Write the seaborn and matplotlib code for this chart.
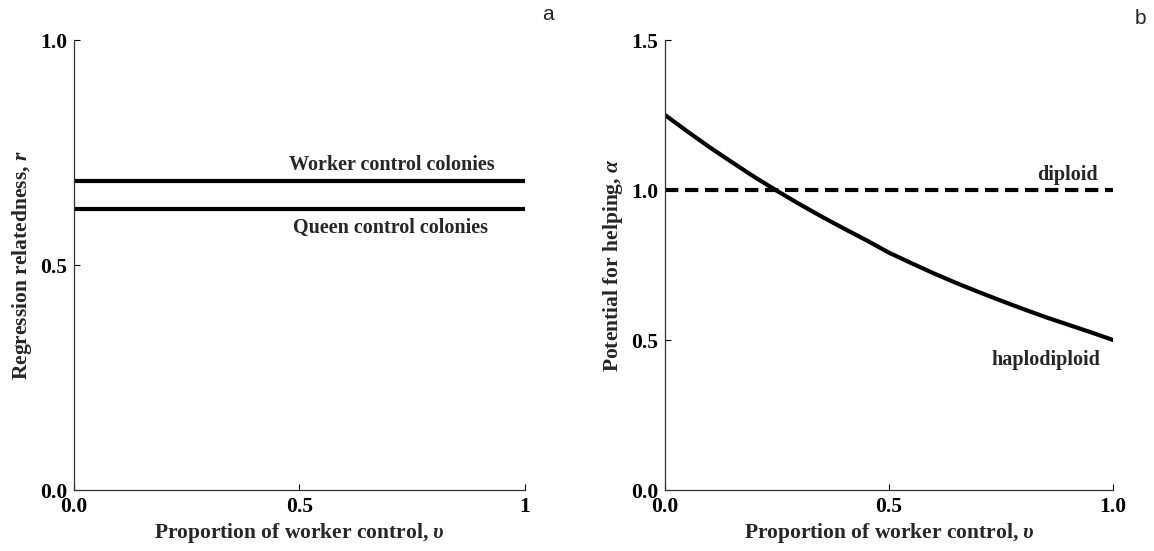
import numpy as np
import pandas as pd
import matplotlib
matplotlib.use("Agg")
import matplotlib.pyplot as plt
import seaborn as sns

# ---- data -------------------------------------------------------------
# panel a: regression relatedness vs proportion of worker control
v_rel = [0.0, 1.0]
r_worker = [0.6875, 0.6875]
r_queen = [0.625, 0.625]

# panel b: potential for helping vs proportion of worker control
v_help = [0.0, 0.05, 0.1, 0.15, 0.2, 0.25, 0.3, 0.35, 0.4, 0.45, 0.5,
          0.55, 0.6, 0.65, 0.7, 0.75, 0.8, 0.85, 0.9, 0.95, 1.0]
alpha_haplo = [1.25, 1.195, 1.142, 1.092, 1.043, 0.997, 0.953, 0.911, 0.871,
               0.832, 0.791, 0.756, 0.722, 0.690, 0.660, 0.631, 0.603, 0.576,
               0.551, 0.526, 0.5]
v_dip = [0.0, 1.0]
alpha_dip = [1.0, 1.0]

xticks_a = [0.0, 0.5, 1.0]
xticklabels_a = ["0.0", "0.5", "1"]
yticks_a = [0.0, 0.5, 1.0]
yticklabels_a = ["0.0", "0.5", "1.0"]
xticks_b = [0.0, 0.5, 1.0]
xticklabels_b = ["0.0", "0.5", "1.0"]
yticks_b = [0.0, 0.5, 1.0, 1.5]
yticklabels_b = ["0.0", "0.5", "1.0", "1.5"]

# ---- style ------------------------------------------------------------
sns.set_style("ticks")
plt.rcParams["font.family"] = ["Liberation Serif", "DejaVu Serif"]
plt.rcParams["font.weight"] = "bold"
plt.rcParams["mathtext.fontset"] = "custom"
plt.rcParams["mathtext.rm"] = "Liberation Serif:bold"
plt.rcParams["mathtext.it"] = "Liberation Serif:italic:bold"
plt.rcParams["mathtext.bf"] = "Liberation Serif:bold"

FS = 14.5
FS_TICK = 15.5
FS_LABEL = 15.5
LW = 3.0

fig = plt.figure(figsize=(11.54, 5.51), dpi=100)
ax_a = fig.add_axes([0.0641, 0.1107, 0.3908, 0.8167])
ax_b = fig.add_axes([0.5763, 0.1107, 0.3882, 0.8167])

df_w = pd.DataFrame({"v": v_rel, "r": r_worker})
df_q = pd.DataFrame({"v": v_rel, "r": r_queen})
sns.lineplot(data=df_w, x="v", y="r", ax=ax_a, color="black", lw=LW)
sns.lineplot(data=df_q, x="v", y="r", ax=ax_a, color="black", lw=LW)

df_h = pd.DataFrame({"v": v_help, "a": alpha_haplo})
df_d = pd.DataFrame({"v": v_dip, "a": alpha_dip})
sns.lineplot(data=df_h, x="v", y="a", ax=ax_b, color="black", lw=LW)
sns.lineplot(data=df_d, x="v", y="a", ax=ax_b, color="black", lw=LW,
             dashes=False, linestyle=(0, (3.2, 1.6)))

ax_a.set_xlim(0, 1)
ax_a.set_ylim(0, 1)
ax_b.set_xlim(0, 1)
ax_b.set_ylim(0, 1.5)

for ax, xt, xl, yt, yl in [(ax_a, xticks_a, xticklabels_a, yticks_a, yticklabels_a),
                           (ax_b, xticks_b, xticklabels_b, yticks_b, yticklabels_b)]:
    ax.set_xticks(xt)
    ax.set_xticklabels(xl, fontsize=FS_TICK, fontweight="bold")
    ax.set_yticks(yt)
    ax.set_yticklabels(yl, fontsize=FS_TICK, fontweight="bold")
    ax.tick_params(direction="in", length=4, width=0.8, pad=5, colors="black")
    for s in ["top", "right"]:
        ax.spines[s].set_visible(False)
    for s in ["left", "bottom"]:
        ax.spines[s].set_linewidth(0.9)
        ax.spines[s].set_color("#333333")

ax_a.set_xlabel(r"Proportion of worker control, $\upsilon$", fontsize=FS_LABEL,
                fontweight="bold", labelpad=3)
ax_a.set_ylabel(r"Regression relatedness, $r$", fontsize=FS_LABEL, fontweight="bold",
                labelpad=4)
ax_b.set_xlabel(r"Proportion of worker control, $\upsilon$", fontsize=FS_LABEL,
                fontweight="bold", labelpad=3)
ax_b.set_ylabel(r"Potential for helping, $\alpha$", fontsize=FS_LABEL, fontweight="bold",
                labelpad=4)

# curve labels
ax_a.text(0.933, 0.722, "Worker control colonies", ha="right", va="center",
          fontsize=FS, fontweight="bold")
ax_a.text(0.918, 0.582, "Queen control colonies", ha="right", va="center",
          fontsize=FS, fontweight="bold")
ax_b.text(0.967, 1.05, "diploid", ha="right", va="center",
          fontsize=FS, fontweight="bold")
ax_b.text(0.971, 0.433, "haplodiploid", ha="right", va="center",
          fontsize=FS, fontweight="bold")

# panel letters
fig.text(548 / 1154, 1 - 15 / 551, "a", family=["Liberation Sans"], fontsize=15,
         fontweight="normal", ha="center", va="center")
fig.text(1140 / 1154, 1 - 18 / 551, "b", family=["Liberation Sans"], fontsize=15,
         fontweight="normal", ha="center", va="center")

fig.savefig("out.png", dpi=100)
